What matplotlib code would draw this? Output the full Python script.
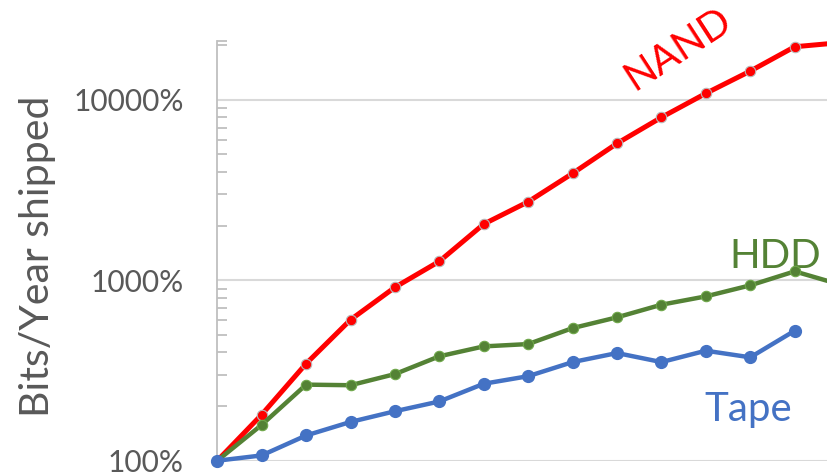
import matplotlib

matplotlib.use('Agg')

import matplotlib.pyplot as plt
import matplotlib.ticker as mticker

plt.rcParams['font.family'] = ['Lato', 'DejaVu Sans']

# Growth of bits shipped per year, relative to the first year (percent)
years_idx = list(range(15))
nand = [100, 180, 345, 604, 914, 1273, 2048, 2722, 3910, 5730, 7990,
        10850, 14420, 19670, 20700]
hdd = [100, 158, 264, 262, 302, 379, 430, 443, 543, 623, 732, 814, 937,
       1120, 950]
tape = [100, 107, 138, 164, 188, 213, 267, 294, 352, 395, 352, 407, 374,
        525]

y_ticks = [100, 1000, 10000]
y_tick_labels = ["100%", "1000%", "10000%"]

RED = "#FF0000"
GREEN = "#548235"
BLUE = "#4472C4"
GREY_TXT = "#595959"

fig = plt.figure(figsize=(8.28, 4.76), dpi=100)
ax = fig.add_axes([0.2624, 0.0321, 0.7376, 0.8828])

ax.set_yscale('log')
ax.set_ylim(100, 21300)
ax.set_xlim(0, 13.75)

# series: red first, green over it, blue on top
ax.plot(years_idx, nand, color=RED, lw=3.6, marker='o', ms=7.5,
        mfc=RED, mec="#B8B8B8", mew=0.8, clip_on=False, zorder=3)
ax.plot(years_idx[:len(hdd)], hdd, color=GREEN, lw=3.2, marker='o', ms=7.5,
        mfc=GREEN, mec="#6FA84A", mew=0.8, clip_on=False, zorder=4)
ax.plot(years_idx[:len(tape)], tape, color=BLUE, lw=3.2, marker='o', ms=8.5,
        mfc=BLUE, mec=BLUE, clip_on=False, zorder=5)

# axes styling
for side in ['top', 'right', 'bottom']:
    ax.spines[side].set_visible(False)
ax.spines['left'].set_color("#BFBFBF")
ax.spines['left'].set_linewidth(1.3)

ax.set_yticks(y_ticks)
ax.set_yticklabels(y_tick_labels)
minor = [m * d for d in (100, 1000, 10000) for m in range(2, 10)
         if m * d < 21300] + [21300]
ax.yaxis.set_minor_locator(mticker.FixedLocator(minor))
ax.yaxis.set_minor_formatter(mticker.NullFormatter())
ax.tick_params(axis='y', which='both', direction='in', color="#BFBFBF",
               width=1.3)
ax.tick_params(axis='y', which='major', length=0, pad=24,
               labelsize=21.5, labelcolor=GREY_TXT)
ax.tick_params(axis='y', which='minor', length=7)
ax.set_xticks([])
ax.grid(axis='y', which='major', color="#D9D9D9", lw=1.5)
ax.set_axisbelow(True)

fig.text(38 / 828, 1 - 256 / 476, "Bits/Year shipped", rotation=90,
         ha='center', va='center', fontsize=29.5, color=GREY_TXT)

# series labels
ax.text(10.37, 19100, "NAND", color=RED, fontsize=29, rotation=33,
        ha='center', va='center')
ax.text(12.57, 1168, "HDD", color=GREEN, fontsize=29,
        ha='center', va='baseline')
ax.text(11.95, 165, "Tape", color=BLUE, fontsize=29,
        ha='center', va='baseline')

plt.savefig("out.png", dpi=100)
plt.close()
